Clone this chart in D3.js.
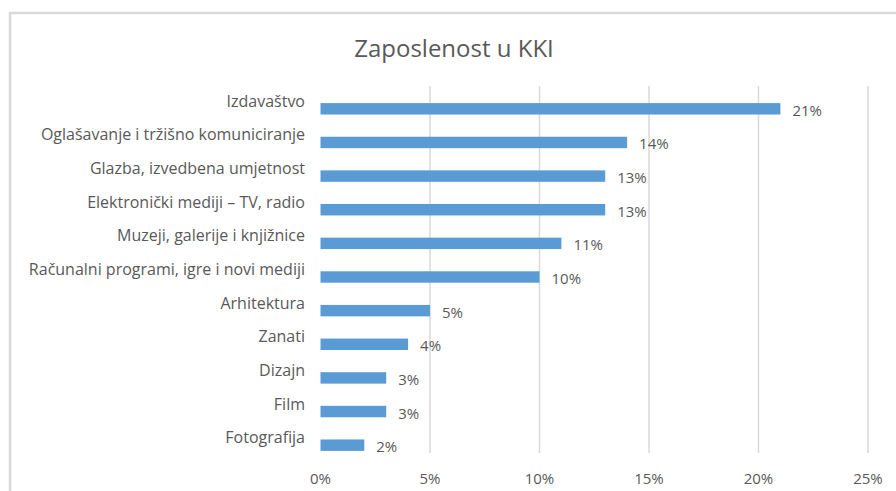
<!DOCTYPE html>
<html>
<head>
<meta charset="utf-8">
<script src="https://cdn.jsdelivr.net/npm/d3@7.9.0/dist/d3.min.js"></script>
<style>
  body { margin: 0; background: #fff; }
  svg text { font-family: "Open Sans", "Noto Sans", sans-serif; fill: #595959; }
</style>
</head>
<body>
<svg id="chart" width="896" height="491"></svg>
<script>
// ===== DATA =====
const categories = [
    "Izdavaštvo",
    "Oglašavanje i tržišno komuniciranje",
    "Glazba, izvedbena umjetnost",
    "Elektronički mediji – TV, radio",
    "Muzeji, galerije i knjižnice",
    "Računalni programi, igre i novi mediji",
    "Arhitektura",
    "Zanati",
    "Dizajn",
    "Film",
    "Fotografija"
];
const shares = [0.21, 0.14, 0.13, 0.13, 0.11, 0.10, 0.05, 0.04, 0.03, 0.03, 0.02];
const xTicks = [0, 0.05, 0.10, 0.15, 0.20, 0.25];
const title = "Zaposlenost u KKI";

const svg = d3.select('#chart');
const fmt = d3.format('.0%');

// chart frame (only top/left visible in the crop)
svg.append('rect')
    .attr('x', 10).attr('y', 13)
    .attr('width', 900).attr('height', 500)
    .attr('fill', 'none')
    .attr('stroke', '#d9d9d9')
    .attr('stroke-width', 2.5);

svg.append('text')
    .attr('x', 454).attr('y', 47)
    .attr('text-anchor', 'middle')
    .attr('dominant-baseline', 'central')
    .style('font-size', '24px')
    .text(title);

let x = d3.scaleLinear().domain([0, 0.25]).range([320.5, 868]);
let y = d3.scaleBand().domain(categories).range([92, 462]).paddingInner(0.66).paddingOuter(0.33);

// gridlines (not at zero)
svg.append('g')
    .selectAll('line')
    .data(xTicks.filter(d => d > 0))
    .join('line')
    .attr('x1', d => x(d)).attr('x2', d => x(d))
    .attr('y1', 86).attr('y2', 453)
    .attr('stroke', '#d9d9d9')
    .attr('stroke-width', 1.5);

// x tick labels
svg.append('g')
    .selectAll('text')
    .data(xTicks)
    .join('text')
    .attr('x', d => x(d))
    .attr('y', 478)
    .attr('text-anchor', 'middle')
    .attr('dominant-baseline', 'central')
    .style('font-size', '15px')
    .text(fmt);

// bars
svg.append('g')
    .selectAll('rect')
    .data(shares)
    .join('rect')
    .attr('x', x(0))
    .attr('y', (d, i) => y(categories[i]))
    .attr('width', d => x(d) - x(0))
    .attr('height', y.bandwidth())
    .attr('fill', '#5b9bd5');

// category labels (sit a bit above the bars, like the original)
svg.append('g')
    .selectAll('text')
    .data(categories)
    .join('text')
    .attr('x', 305)
    .attr('y', d => y(d) + y.bandwidth() / 2 - 8)
    .attr('text-anchor', 'end')
    .attr('dominant-baseline', 'central')
    .style('font-size', '16px')
    .text(d => d);

// value labels
svg.append('g')
    .selectAll('text')
    .data(shares)
    .join('text')
    .attr('x', d => x(d) + 12)
    .attr('y', (d, i) => y(categories[i]) + y.bandwidth() / 2 + 1)
    .attr('dominant-baseline', 'central')
    .style('font-size', '15px')
    .text(fmt);
</script>
</body>
</html>
